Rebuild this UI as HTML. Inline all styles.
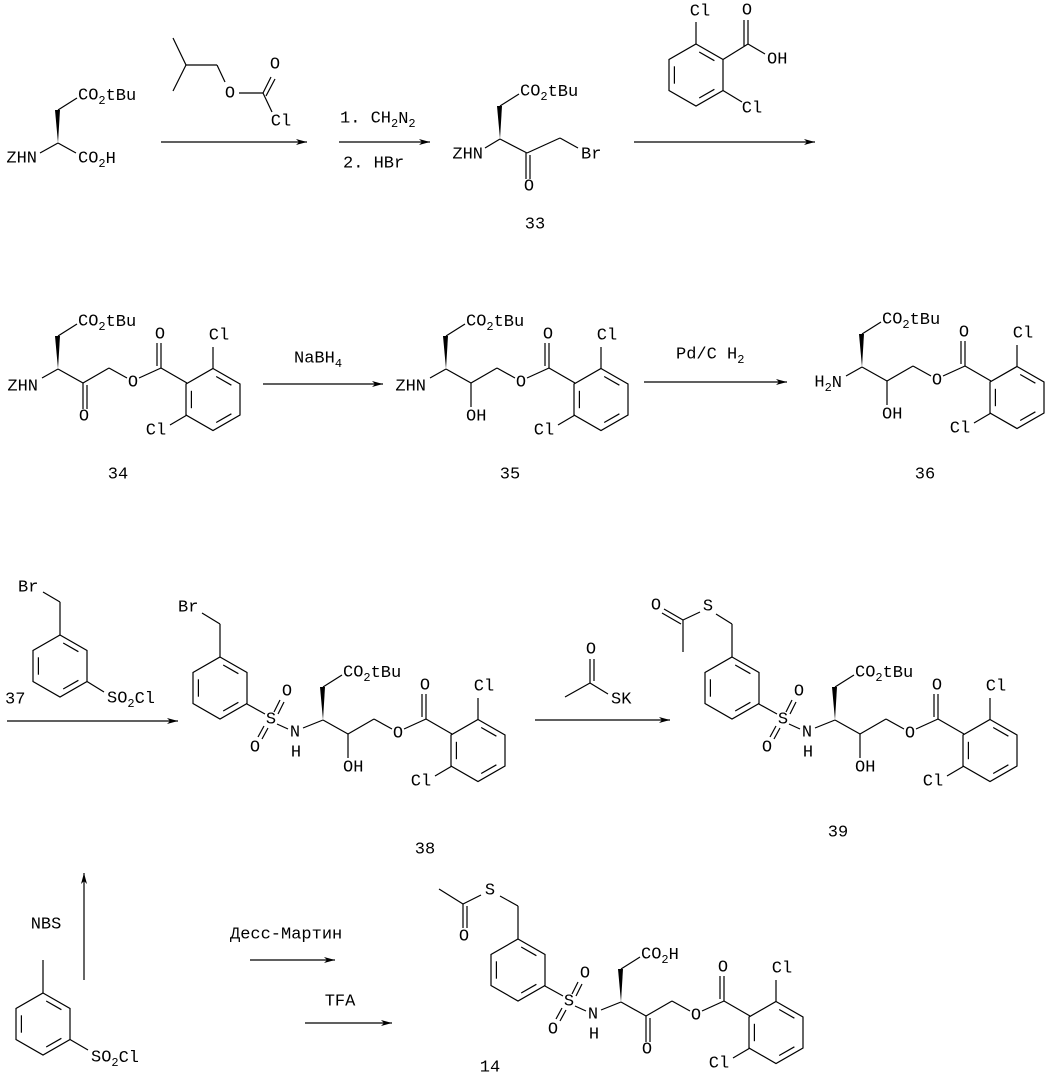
<!DOCTYPE html>
<html><head><meta charset="utf-8"><style>
html,body{margin:0;padding:0;background:#fff;}
svg{display:block;}
text{font-family:"Liberation Mono",monospace;font-size:17px;fill:#000;dominant-baseline:central;}
.s{font-size:12px;}
line,polyline,polygon.r{stroke:#000;stroke-width:1.2;fill:none;}
</style></head><body>
<svg width="1059" height="1082" viewBox="0 0 1059 1082" xmlns="http://www.w3.org/2000/svg">
<defs>
<marker id="ah" markerWidth="12" markerHeight="8" refX="11" refY="4" orient="auto" markerUnits="userSpaceOnUse">
<polygon points="0,1 11,4 0,7 3,4" fill="#000"/></marker>
<g id="ring">
<polygon class="r" points="0,-31 27,-15.5 27,15.5 0,31 -27,15.5 -27,-15.5"/>
<line x1="3.2" y1="-23" x2="18.4" y2="-14.3"/>
<line x1="18.4" y1="14.3" x2="3.2" y2="23"/>
<line x1="-21.6" y1="8.7" x2="-21.6" y2="-8.7"/>
</g>
<!-- wedge + ester side chain (without label) -->
<g id="wedge">
<polygon points="0,0 -3,-33 2,-33" fill="#000"/>
<line x1="0" y1="-33" x2="19" y2="-45"/>
</g>
<!-- benzoate part from C2 onwards -->
<g id="benz">
<line x1="0" y1="0" x2="25" y2="14"/>
<line x1="25" y1="14" x2="51" y2="-1"/>
<line x1="51" y1="-1" x2="69" y2="9"/>
<line x1="81" y1="9" x2="103" y2="-1"/>
<line x1="103" y1="-1" x2="103" y2="-26"/>
<line x1="99" y1="-3" x2="99" y2="-26"/>
<line x1="103" y1="-1" x2="129" y2="14"/>
<use href="#ring" x="155" y="30.5"/>
<line x1="155" y1="-0.5" x2="155" y2="-22"/>
<line x1="129" y1="46" x2="112" y2="56"/>
<text x="75" y="14" text-anchor="middle">O</text>
<text x="102" y="-34" text-anchor="middle">O</text>
<text x="161" y="-33" text-anchor="middle">Cl</text>
<text x="98" y="62" text-anchor="middle">Cl</text>
</g>
<g id="keto">
<line x1="25" y1="14" x2="25" y2="40"/>
<line x1="29" y1="16" x2="29" y2="40"/>
<text x="26" y="48" text-anchor="middle">O</text>
</g>
<g id="hydroxy">
<line x1="25" y1="14" x2="25" y2="38"/>
<text x="20" y="48">OH</text>
</g>
<g id="sulf">
<line x1="-20" y1="8" x2="0" y2="0"/>
<line x1="-46" y1="4" x2="-35" y2="9"/>
<line x1="-77" y1="-16.5" x2="-58" y2="-6"/>
<line x1="-49" y1="-8" x2="-43" y2="-20"/>
<line x1="-45" y1="-6" x2="-39" y2="-18"/>
<line x1="-55" y1="8" x2="-61" y2="19"/>
<line x1="-59" y1="6" x2="-65" y2="17"/>
<use href="#ring" x="-103" y="-32"/>
<text x="-52" y="0" text-anchor="middle">S</text>
<text x="-36" y="-28" text-anchor="middle">O</text>
<text x="-68" y="28" text-anchor="middle">O</text>
<text x="-28" y="13" text-anchor="middle">N</text>
<text x="-27" y="33" text-anchor="middle">H</text>
</g>
<g id="thioac">
<!-- relative to aryl ring top -->
<line x1="0" y1="0" x2="0" y2="-33"/>
<line x1="0" y1="-33" x2="-18" y2="-44"/>
</g>
</defs>

<!-- Row 1: Z-Asp(OtBu)-OH -->
<g transform="translate(58,143)">
<use href="#wedge"/>
<line x1="-18" y1="10" x2="0" y2="0"/>
<line x1="0" y1="0" x2="18" y2="10"/>
<text x="20" y="-47">CO<tspan class="s" dy="5">2</tspan><tspan dy="-5">tBu</tspan></text>
<text x="-21" y="16" text-anchor="end">ZHN</text>
<text x="20" y="16">CO<tspan class="s" dy="5">2</tspan><tspan dy="-5">H</tspan></text>
</g>
<!-- isobutyl chloroformate -->
<line x1="173" y1="38" x2="186" y2="65"/>
<line x1="186" y1="65" x2="173" y2="91"/>
<line x1="186" y1="65" x2="217" y2="65"/>
<line x1="217" y1="65" x2="225" y2="82"/>
<text x="230" y="94" text-anchor="middle">O</text>
<line x1="239" y1="93" x2="263" y2="93"/>
<line x1="263" y1="93" x2="271" y2="77"/>
<line x1="266" y1="96" x2="275" y2="79"/>
<text x="275" y="65" text-anchor="middle">O</text>
<line x1="263" y1="93" x2="272" y2="112"/>
<text x="281" y="122" text-anchor="middle">Cl</text>
<line x1="161" y1="142" x2="307" y2="142" marker-end="url(#ah)"/>
<line x1="339" y1="142" x2="430" y2="142" marker-end="url(#ah)"/>
<text x="340" y="119">1. CH<tspan class="s" dy="5">2</tspan><tspan dy="-5">N</tspan><tspan class="s" dy="5">2</tspan></text>
<text x="343" y="164">2. HBr</text>

<!-- 33 -->
<g transform="translate(500,139)">
<use href="#wedge"/>
<line x1="-15" y1="9" x2="0" y2="0"/>
<line x1="0" y1="0" x2="27" y2="14"/>
<line x1="26" y1="14" x2="26" y2="40"/>
<line x1="30" y1="16" x2="30" y2="40"/>
<line x1="27" y1="14" x2="60" y2="-1"/>
<line x1="60" y1="-1" x2="78" y2="9"/>
<text x="20" y="-47">CO<tspan class="s" dy="5">2</tspan><tspan dy="-5">tBu</tspan></text>
<text x="-17" y="16" text-anchor="end">ZHN</text>
<text x="29" y="48" text-anchor="middle">O</text>
<text x="81" y="16">Br</text>
</g>
<text x="535" y="225" text-anchor="middle">33</text>

<!-- 2,6-dichlorobenzoic acid -->
<use href="#ring" x="696" y="75"/>
<line x1="696" y1="44" x2="696" y2="22"/>
<text x="700" y="12" text-anchor="middle">Cl</text>
<line x1="723" y1="59.5" x2="748" y2="44"/>
<line x1="748" y1="44" x2="748" y2="20"/>
<line x1="744" y1="46" x2="744" y2="20"/>
<text x="747" y="11" text-anchor="middle">O</text>
<line x1="748" y1="44" x2="765" y2="54"/>
<text x="767" y="60">OH</text>
<line x1="723" y1="90.5" x2="742" y2="102"/>
<text x="752" y="109" text-anchor="middle">Cl</text>
<line x1="634" y1="142" x2="815" y2="142" marker-end="url(#ah)"/>

<!-- Row 2 -->
<g transform="translate(58,369)">
<use href="#wedge"/><use href="#benz"/><use href="#keto"/>
<line x1="-16" y1="9" x2="0" y2="0"/>
<text x="20" y="-47">CO<tspan class="s" dy="5">2</tspan><tspan dy="-5">tBu</tspan></text>
<text x="-20" y="18" text-anchor="end">ZHN</text>
</g>
<text x="118" y="475" text-anchor="middle">34</text>
<line x1="263" y1="384" x2="383" y2="384" marker-end="url(#ah)"/>
<text x="294" y="359">NaBH<tspan class="s" dy="5">4</tspan></text>

<g transform="translate(446,369)">
<use href="#wedge"/><use href="#benz"/><use href="#hydroxy"/>
<line x1="-16" y1="9" x2="0" y2="0"/>
<text x="20" y="-47">CO<tspan class="s" dy="5">2</tspan><tspan dy="-5">tBu</tspan></text>
<text x="-20" y="18" text-anchor="end">ZHN</text>
</g>
<text x="510" y="475" text-anchor="middle">35</text>
<line x1="644" y1="382" x2="787" y2="382" marker-end="url(#ah)"/>
<text x="676" y="355">Pd/C H<tspan class="s" dy="5">2</tspan></text>

<g transform="translate(862,367)">
<use href="#wedge"/><use href="#benz"/><use href="#hydroxy"/>
<line x1="-16" y1="9" x2="0" y2="0"/>
<text x="20" y="-47">CO<tspan class="s" dy="5">2</tspan><tspan dy="-5">tBu</tspan></text>
<text x="-20" y="16" text-anchor="end">H<tspan class="s" dy="5">2</tspan><tspan dy="-5">N</tspan></text>
</g>
<text x="925" y="475" text-anchor="middle">36</text>

<!-- Row 3: 37 -->
<use href="#ring" x="60" y="666"/>
<line x1="60" y1="635" x2="60" y2="602"/>
<line x1="60" y1="602" x2="43" y2="592"/>
<text x="18" y="588">Br</text>
<line x1="87" y1="681.5" x2="104" y2="692"/>
<text x="107" y="699">SO<tspan class="s" dy="5">2</tspan><tspan dy="-5">Cl</tspan></text>
<text x="5" y="700">37</text>
<line x1="7" y1="721" x2="178" y2="721" marker-end="url(#ah)"/>

<!-- 38 -->
<g transform="translate(323,720)">
<use href="#wedge"/><use href="#benz"/><use href="#hydroxy"/><use href="#sulf"/>
<text x="20" y="-47">CO<tspan class="s" dy="5">2</tspan><tspan dy="-5">tBu</tspan></text>
<g transform="translate(-103,-63)"><use href="#thioac"/></g>
<text x="-145" y="-112">Br</text>
</g>
<text x="425" y="850" text-anchor="middle">38</text>

<!-- thioacetate reagent -->
<line x1="590" y1="683" x2="590" y2="659"/>
<line x1="594" y1="681" x2="594" y2="659"/>
<text x="591" y="650" text-anchor="middle">O</text>
<line x1="590" y1="683" x2="565" y2="697"/>
<line x1="590" y1="683" x2="608" y2="694"/>
<text x="611" y="700">SK</text>
<line x1="535" y1="720" x2="670" y2="720" marker-end="url(#ah)"/>

<!-- 39 -->
<g transform="translate(835,720)">
<use href="#wedge"/><use href="#benz"/><use href="#hydroxy"/><use href="#sulf"/>
<text x="20" y="-47">CO<tspan class="s" dy="5">2</tspan><tspan dy="-5">tBu</tspan></text>
</g>
<line x1="732" y1="657" x2="732" y2="624"/>
<line x1="732" y1="624" x2="716" y2="614"/>
<text x="708" y="607" text-anchor="middle">S</text>
<line x1="700" y1="612" x2="683" y2="620"/>
<line x1="683" y1="620" x2="664" y2="609"/>
<line x1="681" y1="624" x2="662" y2="613"/>
<text x="656" y="606" text-anchor="middle">O</text>
<line x1="683" y1="620" x2="683" y2="652"/>
<text x="838" y="833" text-anchor="middle">39</text>

<!-- Row 4: toluenesulfonyl chloride -->
<use href="#ring" x="43" y="1024"/>
<line x1="43" y1="993" x2="43" y2="960"/>
<line x1="70" y1="1039.5" x2="88" y2="1050"/>
<text x="91" y="1058">SO<tspan class="s" dy="5">2</tspan><tspan dy="-5">Cl</tspan></text>
<line x1="84" y1="980" x2="84" y2="873" marker-end="url(#ah)"/>
<text x="46" y="925" text-anchor="middle">NBS</text>
<text x="230" y="935">Десс-Мартин</text>
<line x1="250" y1="960" x2="335" y2="960" marker-end="url(#ah)"/>
<text x="340" y="1002" text-anchor="middle">TFA</text>
<line x1="305" y1="1023" x2="392" y2="1023" marker-end="url(#ah)"/>

<!-- 14 -->
<g transform="translate(621,1002)">
<use href="#wedge"/><use href="#benz"/><use href="#keto"/><use href="#sulf"/>
<text x="20" y="-47">CO<tspan class="s" dy="5">2</tspan><tspan dy="-5">H</tspan></text>
</g>
<line x1="518" y1="939" x2="518" y2="906"/>
<line x1="518" y1="906" x2="500" y2="896"/>
<text x="490" y="891" text-anchor="middle">S</text>
<line x1="481" y1="895" x2="463" y2="904"/>
<line x1="463" y1="904" x2="439" y2="889"/>
<line x1="463" y1="904" x2="463" y2="928"/>
<line x1="467" y1="906" x2="467" y2="928"/>
<text x="464" y="937" text-anchor="middle">O</text>
<text x="490" y="1068" text-anchor="middle">14</text>
</svg>
</body></html>
